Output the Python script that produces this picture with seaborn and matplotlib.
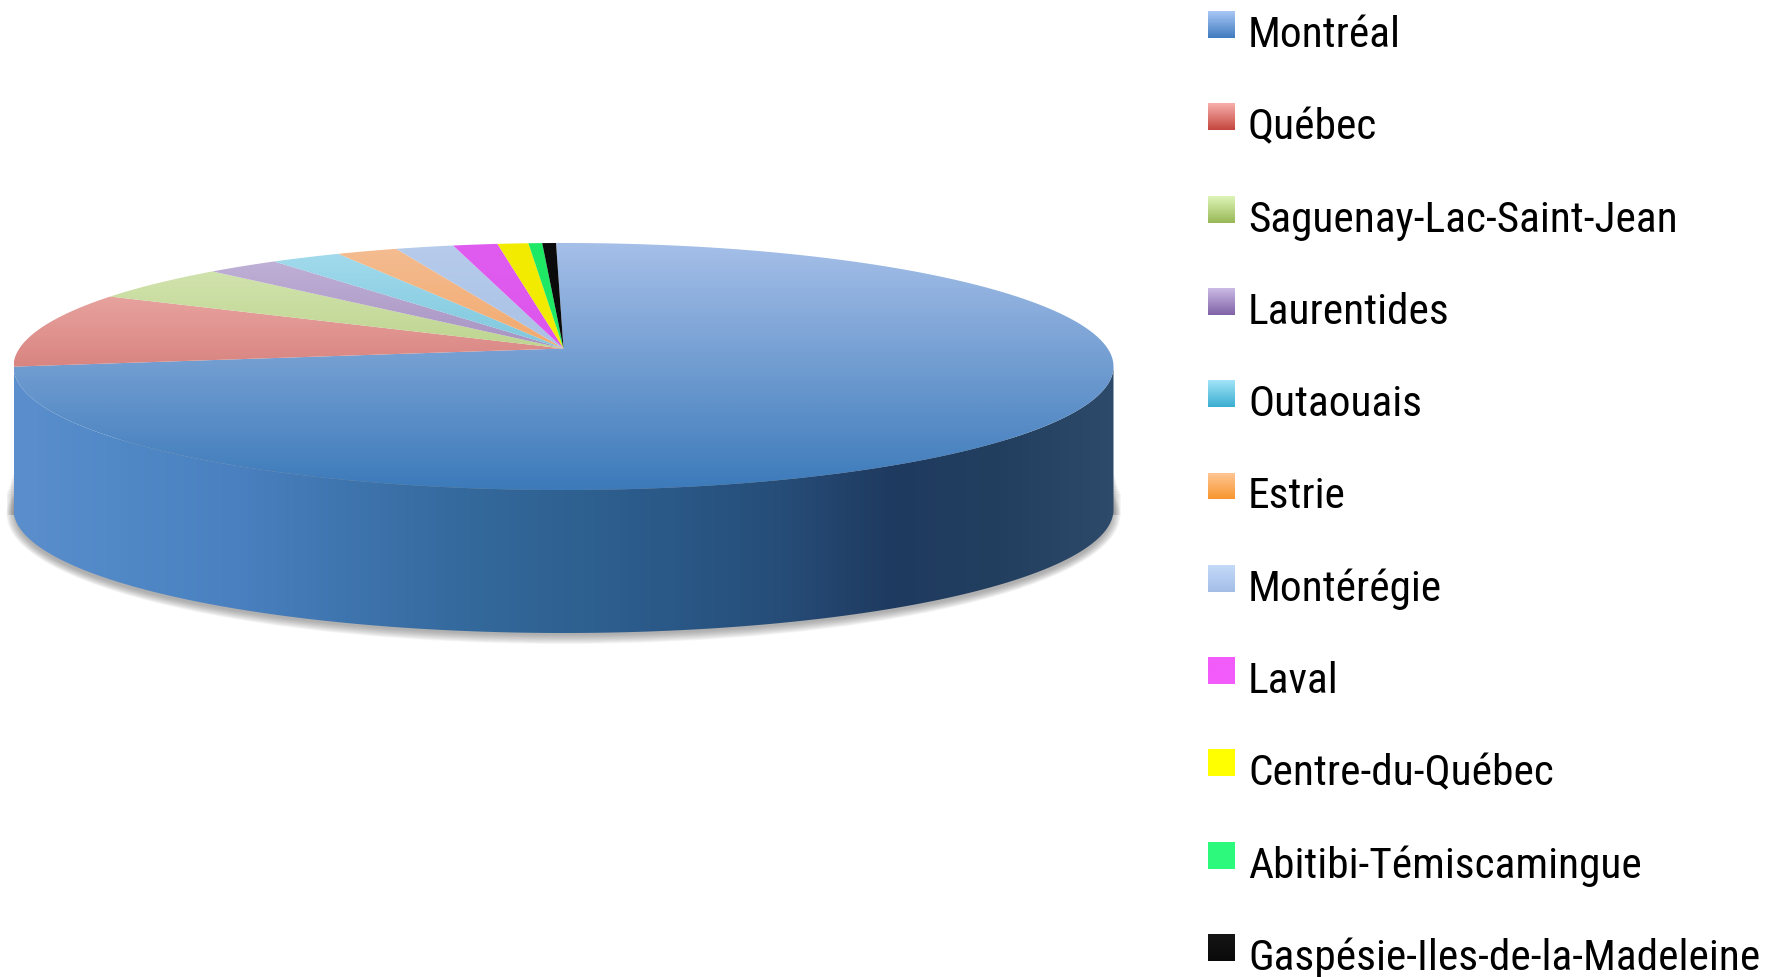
import numpy as np
import matplotlib
matplotlib.use("Agg")
import matplotlib.pyplot as plt
import seaborn as sns
from matplotlib.patches import Polygon, Ellipse, Rectangle
from matplotlib import font_manager
from matplotlib.font_manager import FontProperties

# Data: share of each region (percent)
regions = ["Montréal", "Québec", "Saguenay-Lac-Saint-Jean", "Laurentides",
           "Outaouais", "Estrie", "Montérégie", "Laval", "Centre-du-Québec",
           "Abitibi-Témiscamingue", "Gaspésie-Iles-de-la-Madeleine"]
shares = [75.2, 9.6, 4.4, 2.2, 2.1, 1.8, 1.7, 1.3, 0.9, 0.4, 0.4]

# top-face colours (light at the back, dark at the front)
top_light = ["#a5bfe8", "#f2b9b5", "#d8e8b8", "#c4b6da", "#a5dcee", "#f4bd92",
             "#b7ccec", "#e05cf0", "#f2ec00", "#1ee864", "#0b0b0b"]
top_dark = ["#3c7aba", "#c0504d", "#9bbb59", "#8064a2", "#4bacc6", "#f08e3c",
            "#98b2dc", "#d84ce8", "#f2ea00", "#1ee864", "#0b0b0b"]
# legend square colours
leg_light = ["#aac8f6", "#f8b0ab", "#def5b8", "#cbbbe5", "#a2e4f8", "#ffc898",
             "#c4daf8", "#f25cfa", "#ffff00", "#2cfa7c", "#151515"]
leg_dark = ["#3f7bc0", "#c4463f", "#98b855", "#8062a6", "#3aaed0", "#f8962e",
            "#a3bde6", "#f25cfa", "#ffff00", "#2cfa7c", "#0a0a0a"]
# side wall colours, left to right
wall_stops = ["#5b8ecd", "#5088c6", "#4a80bf", "#3f75ae", "#356a9e", "#2f6292",
              "#2a5887", "#264d78", "#1f3a60", "#223f5f", "#2e4a6a"]

sns.set_theme(style="white")
plt.rcParams["font.family"] = ["DejaVu Sans"]


# pick a narrow sans face for the legend, like the original
def pick_narrow():
    prefs = ["liberation sans narrow", "arial narrow", "roboto condensed",
             "open sans condensed", "noto sans", "dejavu sans"]
    cands = []
    for f in font_manager.fontManager.ttflist:
        nm = f.name.lower()
        fn = f.fname.lower()
        narrow = ("narrow" in nm or "condensed" in nm or "condensed" in fn
                  or "narrow" in fn or f.stretch in ("condensed", "semi-condensed"))
        if not narrow or "extra" in fn or "ultra" in fn:
            continue
        if f.style != "normal" or f.weight not in (400, "normal", "regular"):
            continue
        if any(k in fn for k in ("bold", "italic", "oblique", "light", "medium",
                                 "thin", "black")):
            continue
        rank = next((k for k, p in enumerate(prefs) if nm.startswith(p)), 99)
        cands.append((rank, f.fname))
    if cands:
        return FontProperties(fname=sorted(cands)[0][1])
    return FontProperties(family="DejaVu Sans")


leg_fp = pick_narrow()

W, H = 1785, 977
fig = plt.figure(figsize=(W / 100, H / 100), dpi=100)
ax = fig.add_axes([0, 0, 1, 1])
ax.axis("off")
ax.set_xlim(0, W)
ax.set_ylim(H, 0)

# pie geometry in pixels
cx, cy, a, b = 563.5, 366.5, 550, 123.5
depth = 143
apex_up = 18
start = -0.78  # degrees, clockwise from 12 o'clock


def rim(t, dy=0):
    t = np.radians(t)
    return np.column_stack([cx + a * np.sin(t), cy + dy - b * np.cos(t)])


def grad_fill(poly, cmap, extent, horizontal=False, z=2):
    ax.add_patch(poly)
    g = np.linspace(0, 1, 256)
    img = g[None, :] if horizontal else g[:, None]
    im = ax.imshow(img, cmap=cmap, extent=extent, aspect="auto",
                   origin="upper", zorder=z, interpolation="bilinear")
    im.set_clip_path(poly)


# soft shadow under the pie
for e in np.linspace(9, 0, 12):
    ax.add_patch(Ellipse((cx, cy + depth + 5), 2 * (a + e - 2), 2 * (b + e - 3),
                         color="#606060", alpha=0.05, lw=0, zorder=0))
    ax.add_patch(Rectangle((cx - (a + e - 2), cy + 100 + 3 * e), 2 * (a + e - 2),
                           depth - 95 - 3 * e, color="#606060", alpha=0.05,
                           lw=0, zorder=0))

angles = start + np.concatenate([[0], np.cumsum(shares)]) / np.sum(shares) * 360
wall_cmap = sns.blend_palette(wall_stops, as_cmap=True)

for i in range(len(regions)):
    t0, t1 = angles[i], angles[i + 1]
    # side wall: only the front half (90..270 deg) faces the viewer
    w0, w1 = max(t0, 90), min(t1, 270)
    if w1 > w0:
        ts = np.linspace(w0, w1, 200)
        pts = np.vstack([rim(ts), rim(ts[::-1], dy=depth)])
        poly = Polygon(pts, closed=True, fc="none", ec="none", zorder=1)
        grad_fill(poly, wall_cmap, (cx - a, cx + a, cy + b + depth, cy - b),
                  horizontal=True, z=1)

for i in range(len(regions)):
    t0, t1 = angles[i], angles[i + 1]
    ts = np.linspace(t0, t1, max(int((t1 - t0) * 2), 4))
    pts = np.vstack([[cx, cy - apex_up], rim(ts)])
    poly = Polygon(pts, closed=True, fc="none", ec="none", zorder=2)
    cmap = sns.blend_palette([top_light[i], top_dark[i]], as_cmap=True)
    grad_fill(poly, cmap, (cx - a, cx + a, cy + b, cy - b), z=2)

# legend
pitch = 92.3
texts = []
for i, name in enumerate(regions):
    y0 = 11 + i * pitch
    sq = Rectangle((1208, y0), 27, 27, fc="none", ec="none", zorder=3)
    cmap = sns.blend_palette([leg_light[i], leg_dark[i]], as_cmap=True)
    grad_fill(sq, cmap, (1208, 1235, y0 + 27, y0), z=3)
    t = ax.text(1248, y0 + 36, name, fontproperties=leg_fp, fontsize=35,
                va="baseline", ha="left", color="black", zorder=4)
    texts.append(t)

# scale legend text so the longest label is ~512 px wide, as in the original
r = fig.canvas.get_renderer()
wmax = max(t.get_window_extent(r).width for t in texts)
size = 35 * 512 / wmax
for t in texts:
    t.set_fontsize(size)

ax.set_xlim(0, W)
ax.set_ylim(H, 0)
fig.savefig("out.png", dpi=100, facecolor="white")
